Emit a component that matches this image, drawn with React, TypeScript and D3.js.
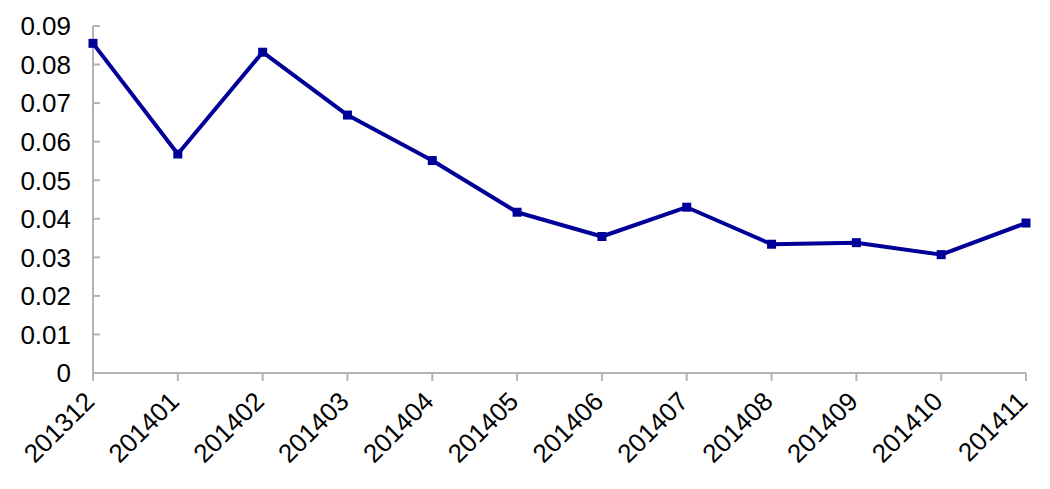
import { useEffect, useRef } from 'react';
import * as d3 from 'd3';

const months = ['201312', '201401', '201402', '201403', '201404', '201405', '201406', '201407', '201408', '201409', '201410', '201411'];
const values = [0.0855, 0.0568, 0.0832, 0.0669, 0.0551, 0.0417, 0.0354, 0.0430, 0.0334, 0.0338, 0.0307, 0.0389];
const yTicks = [0, 0.01, 0.02, 0.03, 0.04, 0.05, 0.06, 0.07, 0.08, 0.09];

const width = 1050;
const height = 489;
const margin = { top: 26, right: 24, bottom: 116, left: 93 };

export default function App() {
  const svgRef = useRef<SVGSVGElement>(null);

  useEffect(() => {
    if (!svgRef.current) return;
    const svg = d3.select(svgRef.current);
    svg.selectAll('*').remove();

    const x = d3.scalePoint<string>()
      .domain(months)
      .range([margin.left, width - margin.right]);

    const y = d3.scaleLinear()
      .domain([0, 0.09])
      .range([height - margin.bottom, margin.top]);

    const axisColor = '#b3b3b3';
    const font = '"Liberation Sans", Arial, sans-serif';

    // y axis
    const yAxis = svg.append('g').attr('transform', `translate(${margin.left},0)`);
    yAxis.append('line')
      .attr('y1', y(0)).attr('y2', y(0.09))
      .attr('stroke', axisColor).attr('stroke-width', 2);
    yAxis.selectAll('.tick')
      .data(yTicks)
      .join('line')
      .attr('x1', 0).attr('x2', 7)
      .attr('y1', d => y(d)).attr('y2', d => y(d))
      .attr('stroke', axisColor).attr('stroke-width', 2);
    yAxis.selectAll('text')
      .data(yTicks)
      .join('text')
      .attr('x', -22)
      .attr('y', d => y(d))
      .attr('dy', '0.36em')
      .attr('text-anchor', 'end')
      .attr('font-family', font)
      .attr('font-size', 26)
      .attr('fill', '#000')
      .text(d => (d === 0 ? '0' : d.toFixed(2)));

    // x axis
    const xAxis = svg.append('g').attr('transform', `translate(0,${y(0)})`);
    xAxis.append('line')
      .attr('x1', margin.left).attr('x2', width - margin.right)
      .attr('stroke', axisColor).attr('stroke-width', 2);
    xAxis.selectAll('.tick')
      .data(months)
      .join('line')
      .attr('x1', d => x(d)!).attr('x2', d => x(d)!)
      .attr('y1', 0).attr('y2', 8)
      .attr('stroke', axisColor).attr('stroke-width', 2);
    xAxis.selectAll('text')
      .data(months)
      .join('text')
      .attr('transform', d => `translate(${x(d)! + 3},${30}) rotate(-45)`)
      .attr('text-anchor', 'end')
      .attr('font-family', font)
      .attr('font-size', 26)
      .attr('fill', '#000')
      .text(d => d);

    const line = d3.line<number>()
      .x((_, i) => x(months[i])!)
      .y(d => y(d));

    svg.append('path')
      .datum(values)
      .attr('d', line)
      .attr('fill', 'none')
      .attr('stroke', '#000099')
      .attr('stroke-width', 4)
      .attr('stroke-linejoin', 'round');

    svg.selectAll('.marker')
      .data(values)
      .join('rect')
      .attr('x', (_, i) => x(months[i])! - 4.5)
      .attr('y', d => y(d) - 4.5)
      .attr('width', 9)
      .attr('height', 9)
      .attr('fill', '#000099');
  }, []);

  return (
    <svg
      ref={svgRef}
      width={width}
      height={height}
      style={{ position: 'absolute', left: 0, top: 0, background: '#fff' }}
    />
  );
}
